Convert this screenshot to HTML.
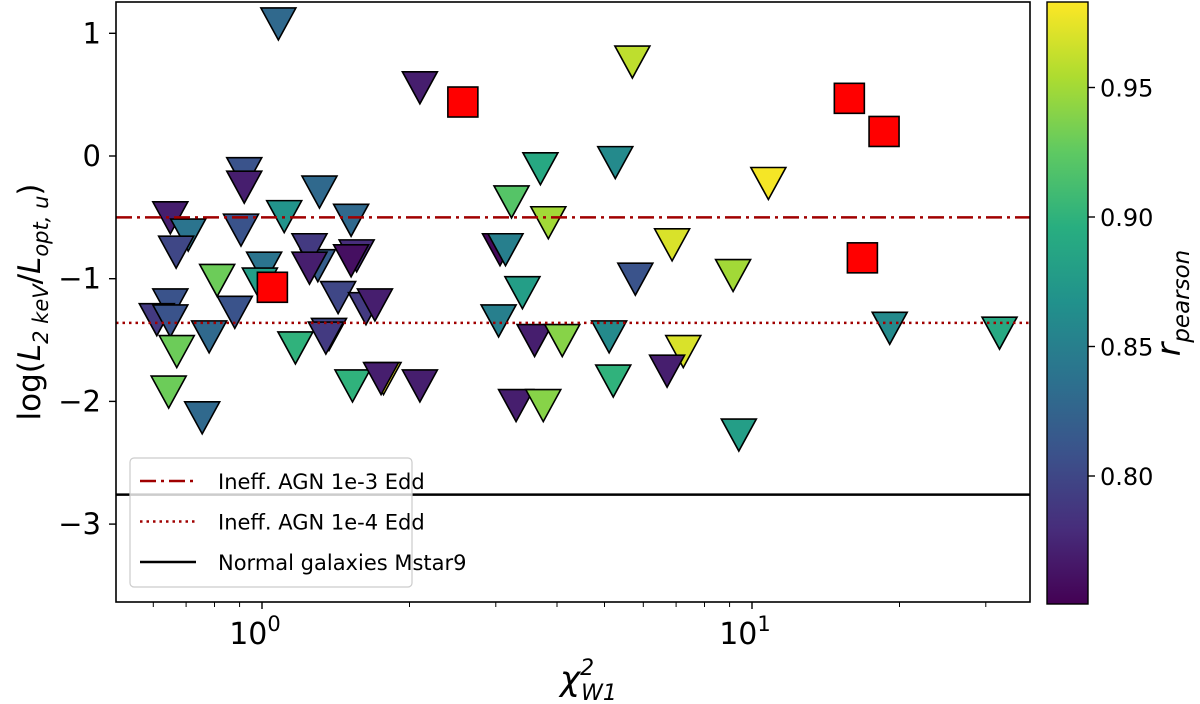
<!DOCTYPE html>
<html><head><meta charset="utf-8"><style>
html,body{margin:0;padding:0;background:#fff;}
svg{display:block;font-family:"DejaVu Sans","Liberation Sans",sans-serif;}
</style></head><body>
<svg id="chart" width="1200" height="704" viewBox="0 0 1200 704">
<defs>
<linearGradient id="vir" x1="0" y1="1" x2="0" y2="0">
<stop offset="0" stop-color="#440154"/><stop offset="0.125" stop-color="#472d7b"/><stop offset="0.25" stop-color="#3b528b"/><stop offset="0.375" stop-color="#2c728e"/><stop offset="0.5" stop-color="#21918c"/><stop offset="0.625" stop-color="#28ae80"/><stop offset="0.75" stop-color="#5ec962"/><stop offset="0.875" stop-color="#addc30"/><stop offset="1" stop-color="#fde725"/>
</linearGradient>
<clipPath id="pc"><rect x="116" y="2" width="914" height="600"/></clipPath>
</defs>
<g id="plot" clip-path="url(#pc)"></g>
<g id="axes"></g>
</svg>
<script>
const triX=[1.08,2.10,0.65,0.707,0.668,0.92,0.92,1.11,1.31,1.52,0.906,1.30,1.01,0.99,0.81,0.88,0.65,0.61,0.65,0.67,0.78,1.56,1.52,1.25,1.25,1.43,1.63,1.70,1.37,1.35,1.17,0.645,0.755,1.53,1.77,1.75,2.10,3.70,5.26,10.8,3.23,3.84,3.06,3.14,6.87,5.78,9.15,3.40,3.04,3.60,4.10,5.11,5.21,7.24,6.71,3.30,3.75,9.40,5.70,19.1,32.0];
const triY=[1.08,0.56,-0.50,-0.64,-0.78,-0.14,-0.25,-0.49,-0.29,-0.52,-0.60,-0.89,-0.91,-1.04,-1.01,-1.27,-1.21,-1.33,-1.34,-1.59,-1.47,-0.81,-0.85,-0.76,-0.91,-1.15,-1.24,-1.21,-1.45,-1.48,-1.56,-1.92,-2.13,-1.87,-1.81,-1.81,-1.87,-0.10,-0.05,-0.22,-0.37,-0.54,-0.76,-0.76,-0.72,-1.00,-0.97,-1.11,-1.34,-1.50,-1.50,-1.47,-1.83,-1.59,-1.75,-2.03,-2.03,-2.27,0.77,-1.40,-1.44];
const triR=[0.83,0.77,0.77,0.84,0.80,0.81,0.77,0.87,0.83,0.83,0.81,0.82,0.84,0.88,0.93,0.81,0.81,0.79,0.81,0.93,0.83,0.78,0.76,0.79,0.77,0.80,0.79,0.77,0.80,0.79,0.90,0.93,0.83,0.90,0.98,0.77,0.77,0.89,0.86,0.98,0.92,0.95,0.755,0.85,0.97,0.81,0.95,0.88,0.85,0.77,0.94,0.86,0.90,0.97,0.77,0.77,0.94,0.88,0.96,0.86,0.89];
const sqX=[1.05,2.57,15.8,18.6,16.8];
const sqY=[-1.07,0.44,0.47,0.20,-0.83];
const yTicks=[1,0,-1,-2,-3];
const cbTicks=[0.80,0.85,0.90,0.95];
const hLines=[-0.5,-1.36,-2.76];
const NS='http://www.w3.org/2000/svg';
const xs=v=>262+490*Math.log10(v);
const ys=v=>156-122.7*v;
const cs=v=>476-(v-0.80)*2590;
const stops=[[68,1,84],[71,45,123],[59,82,139],[44,114,142],[33,145,140],[40,174,128],[94,201,98],[173,220,48],[253,231,37]];
function vir(r){let t=(r-0.7506)/(0.983-0.7506);t=Math.max(0,Math.min(1,t))*8;const i=Math.min(7,Math.floor(t)),f=t-i;const a=stops[i],b=stops[i+1];return 'rgb('+a.map((c,k)=>Math.round(c+(b[k]-c)*f)).join(',')+')';}
function mk(tag,attrs,parent,txt){const e=document.createElementNS(NS,tag);for(const k in attrs)e.setAttribute(k,attrs[k]);if(txt!==undefined)e.textContent=txt;parent.appendChild(e);return e;}
const plot=document.getElementById('plot'),ax=document.getElementById('axes');
triX.forEach((x,i)=>{const cx=xs(x),cy=ys(triY[i]);
const t=mk('polygon',{points:`${cx-17.5},${cy-15.5} ${cx+17.5},${cy-15.5} ${cx},${cy+16.5}`,fill:vir(triR[i]),stroke:'#000','stroke-width':1.6,'stroke-linejoin':'miter'},plot);

});
sqX.forEach((x,i)=>{const cx=xs(x),cy=ys(sqY[i]);
const s=mk('rect',{x:cx-15,y:cy-15,width:30,height:30,fill:'#ff0000',stroke:'#000','stroke-width':1.6},plot);

});
const styles=[{stroke:'#a00000','stroke-dasharray':'16,5,3,5'},{stroke:'#a00000','stroke-dasharray':'2.5,4'},{stroke:'#000'}];
const lnames=['line-1e-3-edd','line-1e-4-edd','line-normal-galaxies'];
hLines.forEach((v,i)=>{const l=mk('line',Object.assign({x1:116,x2:1030,y1:ys(v),y2:ys(v),'stroke-width':2.5},styles[i]),plot);

});
const fr=mk('rect',{x:116,y:2,width:914,height:600,fill:'none',stroke:'#000','stroke-width':1.6},ax);


yTicks.forEach(v=>{const y=ys(v);mk('line',{x1:109,x2:116,y1:y,y2:y,stroke:'#000','stroke-width':1.4},ax);
const t=mk('text',{x:101,y:y+10,'text-anchor':'end','font-size':29},ax,v<0?'\u2212'+Math.abs(v):String(v));

});
const minors=[0.6,0.7,0.8,0.9,2,3,4,5,6,7,8,9,20,30];
minors.forEach(v=>{const x=xs(v);mk('line',{x1:x,x2:x,y1:602,y2:607,stroke:'#000','stroke-width':1},ax);});
[[1,'0'],[10,'1']].forEach(([v,e])=>{const x=xs(v);mk('line',{x1:x,x2:x,y1:602,y2:609,stroke:'#000','stroke-width':1.4},ax);
const t=mk('text',{x:x-7,y:644,'text-anchor':'middle','font-size':30},ax);t.innerHTML='10<tspan dy="-13" font-size="21">'+e+'</tspan>';

});
const lg=mk('g',{},ax);


mk('rect',{x:130,y:458,width:282,height:129,rx:4,fill:'#fff','fill-opacity':0.8,stroke:'#ccc','stroke-width':1.2},lg);
const labs=['Ineff. AGN 1e-3 Edd','Ineff. AGN 1e-4 Edd','Normal galaxies Mstar9'];
labs.forEach((s,i)=>{const y=481+i*40.5;mk('line',Object.assign({x1:140,x2:196,y1:y,y2:y,'stroke-width':2.5},styles[i]),lg);
const t=mk('text',{x:218,y:y+8,'font-size':21},lg,s);

});
const yt=mk('text',{transform:'translate(40,302) rotate(-90)','text-anchor':'middle','font-size':31},ax);
yt.innerHTML='log(<tspan font-style="italic">L</tspan><tspan dy="8" font-size="21" font-style="italic">2 keV</tspan><tspan dy="-8">/</tspan><tspan font-style="italic">L</tspan><tspan dy="8" font-size="21" font-style="italic">opt, u</tspan><tspan dy="-8">)</tspan>';


const xt=mk('text',{x:560,y:690,'font-size':34,'font-style':'italic'},ax);
xt.innerHTML='χ<tspan dy="-15" font-size="22">2</tspan><tspan dx="-13" dy="25" font-size="22">W1</tspan>';


const cb=mk('rect',{x:1047,y:2,width:41,height:602,fill:'url(#vir)',stroke:'#000','stroke-width':1.4},ax);


cbTicks.forEach(v=>{const y=cs(v);mk('line',{x1:1088,x2:1095,y1:y,y2:y,stroke:'#000','stroke-width':1.4},ax);
const t=mk('text',{x:1100,y:y+9,'font-size':24},ax,v.toFixed(2));

});
const ct=mk('text',{transform:'translate(1180,303) rotate(-90)','text-anchor':'middle','font-size':33,'font-style':'italic'},ax);
ct.innerHTML='r<tspan dy="9" font-size="23">pearson</tspan>';


</script>
</body></html>
